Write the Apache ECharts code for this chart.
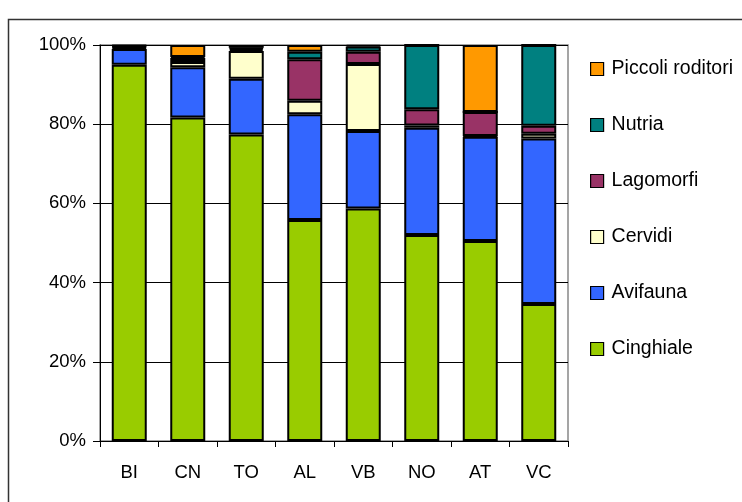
<!DOCTYPE html>
<html>
<head>
<meta charset="utf-8">
<script src="https://cdn.jsdelivr.net/npm/echarts@6/dist/echarts.min.js"></script>
<style>
html,body{margin:0;padding:0;background:#fff;}
#c{width:742px;height:502px;}
</style>
</head>
<body>
<div id="c"></div>
<script>
var categories = ['BI','CN','TO','AL','VB','NO','AT','VC'];
var cinghiale = [95.0, 81.7, 77.4, 55.8, 58.7, 52.0, 50.5, 34.6];
var avifauna  = [4.0, 12.7, 14.1, 26.7, 19.6, 27.1, 26.3, 41.8];
var cervidi   = [0.3, 1.3, 7.0, 3.4, 16.9, 0.6, 0.2, 1.2];
var lagomorfi = [0.3, 1.0, 0.5, 10.5, 3.1, 4.1, 6.1, 2.0];
var nutria    = [0.2, 0.3, 0.3, 1.9, 1.3, 16.2, 0, 20.4];
var piccoli   = [0.2, 3.0, 0.7, 1.7, 0.4, 0, 16.9, 0];
var yTicks = [0, 20, 40, 60, 80, 100];

var font = 'Liberation Sans, Arial, sans-serif';
var names = ['Cinghiale','Avifauna','Cervidi','Lagomorfi','Nutria','Piccoli roditori'];
var colors = ['#99CC00','#3366FF','#FFFFCC','#993366','#008080','#FF9900'];
var datas = [cinghiale, avifauna, cervidi, lagomorfi, nutria, piccoli];

var series = names.map(function(n, i){
  return {
    name: n, type: 'bar', stack: 'total', barWidth: 35,
    data: datas[i],
    itemStyle: {color: colors[i], borderColor: '#000', borderWidth: 2},
    emphasis: {disabled: true}
  };
});

var chart = echarts.init(document.getElementById('c'));
chart.setOption({
  animation: false,
  backgroundColor: '#fff',
  graphic: [{
    type: 'rect', shape: {x: 8.5, y: 19.5, width: 800, height: 600},
    style: {fill: 'none', stroke: '#333', lineWidth: 1.5}, z: -10
  }],
  grid: {left: 100, right: 174, top: 45, bottom: 61, show: true, borderColor: '#888', borderWidth: 1.5, containLabel: false},
  legend: {
    orient: 'vertical', left: 590, top: 59, padding: 0,
    data: names.slice().reverse(),
    itemWidth: 13, itemHeight: 13, itemGap: 36,
    icon: 'rect',
    itemStyle: {borderColor: '#000', borderWidth: 1.2},
    textStyle: {fontSize: 19.5, fontFamily: font, color: '#000', lineHeight: 18, padding: [0,0,0,3]},
    selectedMode: false
  },
  xAxis: {
    type: 'category', data: categories,
    axisLine: {lineStyle: {color: '#000', width: 1}},
    axisTick: {show: true, length: 6, lineStyle: {color: '#000'}},
    axisLabel: {fontSize: 18.5, fontFamily: font, color: '#000', margin: 22},
    splitLine: {show: false}
  },
  yAxis: {
    type: 'value', min: yTicks[0], max: yTicks[yTicks.length-1], interval: 20,
    axisLine: {show: true, lineStyle: {color: '#000', width: 1}},
    axisTick: {show: true, length: 7, lineStyle: {color: '#000'}},
    axisLabel: {fontSize: 18.5, fontFamily: font, color: '#000', margin: 14, formatter: '{value}%'},
    splitLine: {show: true, lineStyle: {color: '#000', width: 1}}
  },
  series: series
});
</script>
</body>
</html>
